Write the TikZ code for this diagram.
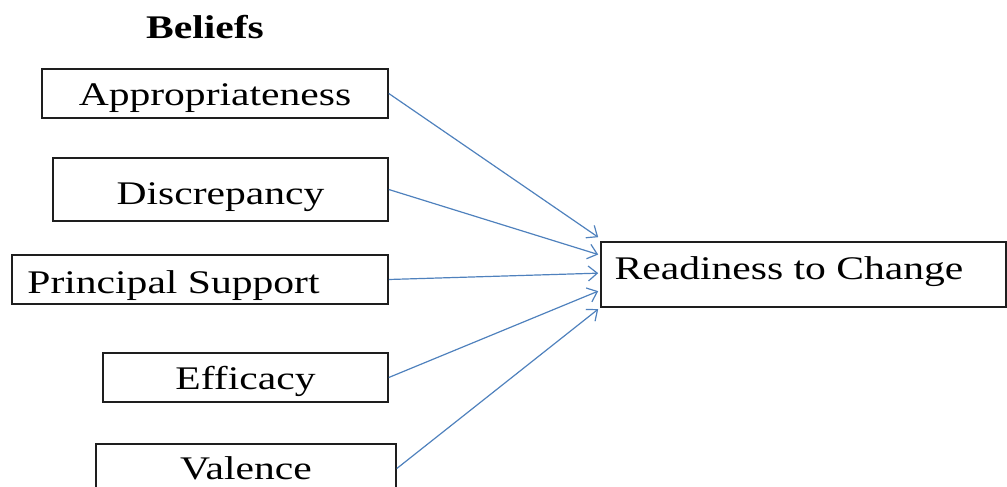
\documentclass[tikz,border=0pt]{standalone}
\usepackage{fontspec}
\setmainfont{Liberation Serif}
\usetikzlibrary{arrows.meta,calc}
\definecolor{arrowblue}{RGB}{79,129,189}
\definecolor{boxline}{RGB}{30,30,30}
\newcommand{\widetxt}[1]{\scalebox{1.26}[1]{#1}}
\tikzset{
  beliefbox/.style={draw=boxline, line width=1.6pt, rectangle, inner sep=0pt,
    font=\fontsize{33}{40}\selectfont, text height=21.8pt, text depth=0pt},
  link/.style={draw=arrowblue, line width=1.2pt, -{Straight Barb[length=9pt,width=15pt,line width=1.2pt]}},
}
\begin{document}
\begin{tikzpicture}[x=1pt,y=-1pt]
\useasboundingbox (0,0) rectangle (1007,487);
\clip (0,0) rectangle (1007,487);
\node[font=\fontsize{33}{40}\selectfont\bfseries, text height=21.8pt, text depth=0pt, inner sep=0pt] (title) at (205,28) {\widetxt{Beliefs}};
\node[beliefbox, minimum width=346pt, minimum height=49pt] (app) at (215,93.5) {\raisebox{-1pt}{\widetxt{Appropriateness}}};
\node[beliefbox, minimum width=335pt, minimum height=63pt] (dis) at (220.5,189.5) {\raisebox{-4.5pt}{\widetxt{Discrepancy}}};
\node[beliefbox, minimum width=376pt, minimum height=49pt] (ps) at (200,279.5) {\raisebox{-3pt}{\widetxt{Principal Support}}\rule{53pt}{0pt}};
\node[beliefbox, minimum width=285pt, minimum height=49pt] (eff) at (245.5,377.5) {\raisebox{-1pt}{\widetxt{Efficacy}}};
\node[beliefbox, minimum width=300pt, minimum height=49pt] (val) at (246,468.5) {\widetxt{Valence}};
\node[beliefbox, minimum width=405pt, minimum height=65pt] (rtc) at (803.5,274.5) {\raisebox{6pt}{\widetxt{Readiness to Change}}\rule{29pt}{0pt}};
\coordinate (e1) at ($(rtc.north west)!-0.06!(rtc.south west)+(-2,0)$);
\coordinate (e2) at ($(rtc.north west)!0.2!(rtc.south west)+(-2,0)$);
\coordinate (e3) at ($(rtc.north west)!0.48!(rtc.south west)+(-2,0)$);
\coordinate (e4) at ($(rtc.north west)!0.75!(rtc.south west)+(-2,0)$);
\coordinate (e5) at ($(rtc.north west)!1.02!(rtc.south west)+(-2,0)$);
\draw[link] (app.east) -- (e1);
\draw[link] (dis.east) -- (e2);
\draw[link] (ps.east) -- (e3);
\draw[link] (eff.east) -- (e4);
\draw[link] (val.east) -- (e5);
\end{tikzpicture}
\end{document}
